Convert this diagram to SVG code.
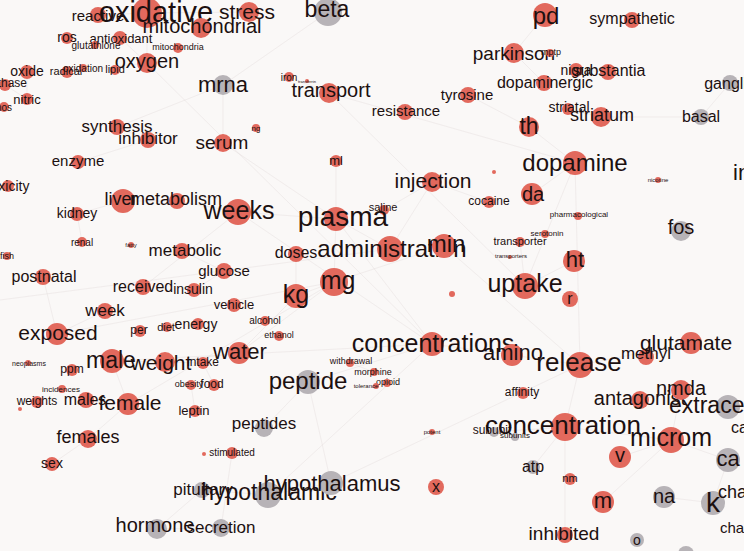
<svg xmlns="http://www.w3.org/2000/svg" width="744" height="551" viewBox="0 0 744 551">
<style>
.r{fill:#e2695d}
.g{fill:#b7b3b7}
text{font-family:"Liberation Sans",Arial,sans-serif;fill:#1c1010;text-anchor:middle;dominant-baseline:central}
text.s{text-anchor:start}
#edges line{stroke:#e0d8d8;stroke-width:0.6;opacity:0.6}
</style>
<rect width="744" height="551" fill="#faf8f7"/>
<g id="edges">
<line x1="147" y1="13" x2="249" y2="12"/><line x1="147" y1="13" x2="147" y2="63"/><line x1="147" y1="13" x2="98" y2="15"/><line x1="147" y1="13" x2="201" y2="28"/>
<line x1="147" y1="63" x2="67" y2="72"/><line x1="147" y1="63" x2="120" y2="38"/><line x1="27" y1="72" x2="27" y2="99"/><line x1="27" y1="99" x2="5" y2="85"/>
<line x1="117" y1="127" x2="148" y2="140"/><line x1="148" y1="140" x2="78" y2="162"/><line x1="117" y1="127" x2="223" y2="85"/><line x1="223" y1="85" x2="223" y2="143"/>
<line x1="223" y1="85" x2="328" y2="12"/><line x1="329" y1="93" x2="289" y2="77"/><line x1="329" y1="93" x2="525" y2="286"/><line x1="336" y1="219" x2="432" y2="344"/>
<line x1="336" y1="219" x2="390" y2="249"/><line x1="336" y1="219" x2="334" y2="282"/><line x1="334" y1="282" x2="296" y2="296"/><line x1="296" y1="296" x2="296" y2="254"/>
<line x1="334" y1="282" x2="444" y2="246"/><line x1="390" y1="249" x2="432" y2="182"/><line x1="432" y1="182" x2="384" y2="210"/><line x1="432" y1="182" x2="489" y2="202"/>
<line x1="575" y1="163" x2="532" y2="194"/><line x1="575" y1="163" x2="525" y2="286"/><line x1="575" y1="163" x2="580" y2="365"/><line x1="575" y1="163" x2="529" y2="127"/>
<line x1="529" y1="127" x2="468" y2="95"/><line x1="514" y1="53" x2="545" y2="15"/><line x1="514" y1="53" x2="544" y2="83"/><line x1="608" y1="72" x2="576" y2="70"/>
<line x1="601" y1="117" x2="568" y2="109"/><line x1="601" y1="117" x2="701" y2="117"/><line x1="701" y1="117" x2="730" y2="83"/><line x1="525" y1="286" x2="520" y2="242"/>
<line x1="525" y1="286" x2="574" y2="261"/><line x1="580" y1="365" x2="691" y2="343"/><line x1="580" y1="365" x2="565" y2="427"/><line x1="565" y1="427" x2="671" y2="440"/>
<line x1="671" y1="440" x2="681" y2="390"/><line x1="681" y1="390" x2="640" y2="400"/><line x1="691" y1="343" x2="646" y2="357"/><line x1="671" y1="440" x2="728" y2="460"/>
<line x1="728" y1="460" x2="713" y2="503"/><line x1="713" y1="503" x2="664" y2="497"/><line x1="565" y1="427" x2="533" y2="467"/><line x1="432" y1="344" x2="512" y2="355"/>
<line x1="512" y1="355" x2="580" y2="365"/><line x1="308" y1="382" x2="264" y2="428"/><line x1="308" y1="382" x2="331" y2="483"/><line x1="331" y1="483" x2="268" y2="495"/>
<line x1="268" y1="495" x2="202" y2="490"/><line x1="202" y1="490" x2="157" y2="529"/><line x1="157" y1="529" x2="221" y2="528"/><line x1="221" y1="528" x2="232" y2="453"/>
<line x1="165" y1="362" x2="112" y2="361"/><line x1="112" y1="361" x2="128" y2="404"/><line x1="128" y1="404" x2="88" y2="439"/><line x1="86" y1="400" x2="128" y2="404"/>
<line x1="165" y1="362" x2="203" y2="363"/><line x1="203" y1="363" x2="214" y2="385"/><line x1="214" y1="385" x2="191" y2="385"/><line x1="195" y1="411" x2="191" y2="385"/>
<line x1="238" y1="212" x2="177" y2="201"/><line x1="123" y1="201" x2="177" y2="201"/><line x1="123" y1="201" x2="77" y2="214"/><line x1="77" y1="214" x2="82" y2="242"/>
<line x1="57" y1="334" x2="105" y2="311"/><line x1="57" y1="334" x2="43" y2="277"/><line x1="143" y1="287" x2="238" y2="212"/><line x1="239" y1="353" x2="165" y2="362"/>
<line x1="239" y1="353" x2="296" y2="296"/><line x1="224" y1="271" x2="194" y2="290"/><line x1="182" y1="251" x2="224" y2="271"/><line x1="238" y1="212" x2="336" y2="219"/>
<line x1="52" y1="464" x2="88" y2="439"/><line x1="432" y1="344" x2="308" y2="382"/><line x1="374" y1="372" x2="350" y2="363"/><line x1="334" y1="282" x2="239" y2="353"/>
<line x1="336" y1="161" x2="336" y2="219"/><line x1="223" y1="143" x2="336" y2="219"/><line x1="565" y1="427" x2="494" y2="432"/><line x1="565" y1="535" x2="565" y2="427"/>
<line x1="620" y1="457" x2="671" y2="440"/><line x1="603" y1="502" x2="671" y2="440"/><line x1="0" y1="300" x2="390" y2="249"/><line x1="112" y1="361" x2="432" y2="344"/>
<line x1="147" y1="63" x2="432" y2="344"/><line x1="238" y1="212" x2="432" y2="344"/><line x1="329" y1="93" x2="575" y2="163"/><line x1="444" y1="246" x2="580" y2="365"/>
<line x1="268" y1="495" x2="432" y2="344"/><line x1="331" y1="483" x2="580" y2="365"/><line x1="57" y1="334" x2="334" y2="282"/><line x1="128" y1="404" x2="334" y2="282"/>
</g>
<g id="n-reactive"><circle class="r" cx="98" cy="15" r="8"/><text x="98" y="15" font-size="15">reactive</text></g>
<g id="n-oxidative"><circle class="r" cx="147" cy="13" r="15"/><text x="156" y="12" font-size="29">oxidative</text></g>
<g id="n-mitochondrial"><circle class="r" cx="201" cy="28" r="10"/><text x="202" y="26" font-size="20">mitochondrial</text></g>
<g id="n-ros"><circle class="r" cx="67" cy="38" r="6"/><text x="67" y="37" font-size="14">ros</text></g>
<g id="n-antioxidant"><circle class="r" cx="120" cy="38" r="7"/><text x="121" y="38" font-size="13">antioxidant</text></g>
<g id="n-glutathione"><circle class="r" cx="95" cy="45" r="4"/><text x="96" y="45" font-size="10">glutathione</text></g>
<g id="n-mitochondria"><circle class="r" cx="178" cy="48" r="5"/><text x="178" y="47" font-size="9">mitochondria</text></g>
<g id="n-oxygen"><circle class="r" cx="147" cy="63" r="10"/><text x="147" y="61" font-size="20">oxygen</text></g>
<g id="n-oxide"><circle class="r" cx="27" cy="72" r="7"/><text x="27" y="71" font-size="14">oxide</text></g>
<g id="n-radical"><circle class="r" cx="67" cy="72" r="6"/><text x="66" y="71" font-size="11">radical</text></g>
<g id="n-oxidation"><circle class="r" cx="83" cy="68" r="4"/><text x="83" y="68" font-size="10">oxidation</text></g>
<g id="n-lipid"><circle class="r" cx="115" cy="70" r="5"/><text x="115" y="69" font-size="11">lipid</text></g>
<g id="n-synthase"><circle class="r" cx="5" cy="85" r="6"/><text x="3" y="83" font-size="12">synthase</text></g>
<g id="n-nitric"><circle class="r" cx="27" cy="99" r="6"/><text x="27" y="99" font-size="13">nitric</text></g>
<g id="n-nos"><circle class="r" cx="4" cy="107" r="5"/><text x="4" y="107" font-size="10">nos</text></g>
<g id="n-synthesis"><circle class="r" cx="117" cy="127" r="8"/><text x="117" y="126" font-size="17">synthesis</text></g>
<g id="n-inhibitor"><circle class="r" cx="148" cy="140" r="8"/><text x="148" y="138" font-size="17">inhibitor</text></g>
<g id="n-enzyme"><circle class="r" cx="78" cy="162" r="7"/><text x="78" y="160" font-size="15">enzyme</text></g>
<g id="n-toxicity"><circle class="r" cx="8" cy="186" r="6"/><text x="8" y="186" font-size="14">toxicity</text></g>
<g id="n-stress"><circle class="r" cx="249" cy="12" r="10"/><text x="247" y="11" font-size="21">stress</text></g>
<g id="n-beta"><circle class="g" cx="328" cy="12" r="14"/><text x="327" y="9" font-size="23">beta</text></g>
<g id="n-mrna"><circle class="g" cx="223" cy="85" r="10"/><text x="223" y="84" font-size="22">mrna</text></g>
<g id="n-iron"><circle class="r" cx="289" cy="77" r="5"/><text x="289" y="77" font-size="10">iron</text></g>
<g id="n-transferrin"><circle class="r" cx="307" cy="81" r="2"/><text x="307" y="81" font-size="4">transferrin</text></g>
<g id="n-transport"><circle class="r" cx="329" cy="93" r="10"/><text x="331" y="90" font-size="20">transport</text></g>
<g id="n-ng"><circle class="r" cx="256" cy="128" r="4"/><text x="256" y="128" font-size="8">ng</text></g>
<g id="n-serum"><circle class="r" cx="223" cy="143" r="9"/><text x="222" y="142" font-size="19">serum</text></g>
<g id="n-ml"><circle class="r" cx="336" cy="161" r="6"/><text x="336" y="160" font-size="13">ml</text></g>
<g id="n-pd"><circle class="r" cx="545" cy="15" r="12"/><text x="546" y="15" font-size="24">pd</text></g>
<g id="n-parkinson"><circle class="r" cx="514" cy="53" r="10"/><text x="514" y="53" font-size="19">parkinson</text></g>
<g id="n-mptp"><circle class="r" cx="550" cy="53" r="4"/><text x="551" y="52" font-size="9">mptp</text></g>
<g id="n-dopaminergic"><circle class="r" cx="544" cy="83" r="8"/><text x="545" y="82" font-size="16">dopaminergic</text></g>
<g id="n-tyrosine"><circle class="r" cx="468" cy="95" r="8"/><text x="467" y="94" font-size="15">tyrosine</text></g>
<g id="n-resistance"><circle class="r" cx="405" cy="112" r="8"/><text x="406" y="110" font-size="15">resistance</text></g>
<g id="n-th"><circle class="r" cx="529" cy="127" r="10"/><text x="529" y="126" font-size="23">th</text></g>
<g id="n-dopamine"><circle class="r" cx="575" cy="163" r="12"/><text x="575" y="162" font-size="24">dopamine</text></g>
<g id="n-injection"><circle class="r" cx="432" cy="182" r="10"/><text x="433" y="180" font-size="21">injection</text></g>
<g id="n-tiny1"><circle class="r" cx="494" cy="172" r="2"/></g>
<g id="n-sympathetic"><circle class="r" cx="632" cy="20" r="8"/><text x="632" y="18" font-size="16">sympathetic</text></g>
<g id="n-nigra"><circle class="r" cx="576" cy="70" r="7"/><text x="576" y="70" font-size="14">nigra</text></g>
<g id="n-substantia"><circle class="r" cx="608" cy="72" r="8"/><text x="609" y="70" font-size="16">substantia</text></g>
<g id="n-ganglia"><circle class="g" cx="730" cy="83" r="8"/><text x="730" y="83" font-size="16">ganglia</text></g>
<g id="n-striatal"><circle class="r" cx="568" cy="109" r="6"/><text x="569" y="107" font-size="14">striatal</text></g>
<g id="n-striatum"><circle class="r" cx="601" cy="117" r="10"/><text x="602" y="115" font-size="18">striatum</text></g>
<g id="n-basal"><circle class="g" cx="701" cy="117" r="8"/><text x="701" y="116" font-size="16">basal</text></g>
<g id="n-nicotine"><circle class="r" cx="658" cy="180" r="3"/><text x="658" y="180" font-size="6">nicotine</text></g>
<g id="n-in"><text class="s" x="733" y="172" font-size="22">in</text></g>
<g id="n-kidney"><circle class="r" cx="77" cy="214" r="7"/><text x="77" y="213" font-size="14">kidney</text></g>
<g id="n-liver"><circle class="r" cx="123" cy="201" r="12"/><text x="121" y="199" font-size="18">liver</text></g>
<g id="n-metabolism"><circle class="r" cx="177" cy="201" r="8"/><text x="176" y="199" font-size="18">metabolism</text></g>
<g id="n-renal"><circle class="r" cx="82" cy="242" r="5"/><text x="82" y="242" font-size="10">renal</text></g>
<g id="n-fatty"><circle class="r" cx="131" cy="245" r="3"/><text x="131" y="245" font-size="6">fatty</text></g>
<g id="n-fish"><circle class="r" cx="7" cy="256" r="4"/><text x="7" y="256" font-size="9">fish</text></g>
<g id="n-metabolic"><circle class="r" cx="182" cy="251" r="8"/><text x="185" y="250" font-size="17">metabolic</text></g>
<g id="n-postnatal"><circle class="r" cx="43" cy="277" r="8"/><text x="44" y="276" font-size="16">postnatal</text></g>
<g id="n-received"><circle class="r" cx="143" cy="287" r="8"/><text x="143" y="286" font-size="16">received</text></g>
<g id="n-insulin"><circle class="r" cx="194" cy="290" r="7"/><text x="193" y="289" font-size="14">insulin</text></g>
<g id="n-week"><circle class="r" cx="105" cy="311" r="8"/><text x="105" y="310" font-size="17">week</text></g>
<g id="n-exposed"><circle class="r" cx="57" cy="334" r="11"/><text x="58" y="332" font-size="21">exposed</text></g>
<g id="n-per"><circle class="r" cx="140" cy="331" r="6"/><text x="139" y="330" font-size="12">per</text></g>
<g id="n-diet"><circle class="r" cx="167" cy="327" r="5"/><text x="166" y="327" font-size="11">diet</text></g>
<g id="n-energy"><circle class="r" cx="198" cy="324" r="6"/><text x="196" y="324" font-size="14">energy</text></g>
<g id="n-neoplasms"><circle class="r" cx="28" cy="363" r="3"/><text x="29" y="363" font-size="7">neoplasms</text></g>
<g id="n-male"><circle class="r" cx="112" cy="361" r="12"/><text x="111" y="360" font-size="23">male</text></g>
<g id="n-weight"><circle class="r" cx="165" cy="362" r="10"/><text x="161" y="362" font-size="21">weight</text></g>
<g id="n-ppm"><circle class="r" cx="72" cy="370" r="6"/><text x="72" y="369" font-size="12">ppm</text></g>
<g id="n-incidences"><circle class="r" cx="62" cy="389" r="4"/><text x="61" y="389" font-size="8">incidences</text></g>
<g id="n-weights"><circle class="r" cx="37" cy="402" r="6"/><text x="37" y="401" font-size="12">weights</text></g>
<g id="n-tiny2"><circle class="r" cx="20" cy="409" r="2"/></g>
<g id="n-males"><circle class="r" cx="86" cy="400" r="8"/><text x="85" y="399" font-size="16">males</text></g>
<g id="n-female"><circle class="r" cx="128" cy="404" r="11"/><text x="130" y="402" font-size="21">female</text></g>
<g id="n-obesity"><circle class="r" cx="191" cy="385" r="5"/><text x="189" y="384" font-size="9">obesity</text></g>
<g id="n-food"><circle class="r" cx="214" cy="385" r="6"/><text x="212" y="384" font-size="12">food</text></g>
<g id="n-intake"><circle class="r" cx="203" cy="363" r="6"/><text x="203" y="362" font-size="12">intake</text></g>
<g id="n-leptin"><circle class="r" cx="195" cy="411" r="6"/><text x="194" y="410" font-size="13">leptin</text></g>
<g id="n-females"><circle class="r" cx="88" cy="439" r="9"/><text x="88" y="437" font-size="18">females</text></g>
<g id="n-sex"><circle class="r" cx="52" cy="464" r="7"/><text x="52" y="463" font-size="14">sex</text></g>
<g id="n-pituitary"><circle class="g" cx="202" cy="490" r="8"/><text x="203" y="489" font-size="17">pituitary</text></g>
<g id="n-hypothalamic"><circle class="g" cx="268" cy="495" r="13"/><text x="269" y="492" font-size="23">hypothalamic</text></g>
<g id="n-hypothalamus"><circle class="g" cx="331" cy="483" r="12"/><text x="332" y="483" font-size="22">hypothalamus</text></g>
<g id="n-secretion"><circle class="g" cx="221" cy="528" r="9"/><text x="221" y="527" font-size="17">secretion</text></g>
<g id="n-hormone"><circle class="g" cx="157" cy="529" r="10"/><text x="155" y="525" font-size="20">hormone</text></g>
<g id="n-water"><circle class="r" cx="239" cy="353" r="11"/><text x="240" y="351" font-size="22">water</text></g>
<g id="n-peptide"><circle class="g" cx="308" cy="382" r="12"/><text x="308" y="380" font-size="24">peptide</text></g>
<g id="n-withdrawal"><circle class="r" cx="350" cy="363" r="4"/><text x="351" y="361" font-size="9">withdrawal</text></g>
<g id="n-morphine"><circle class="r" cx="374" cy="372" r="4"/><text x="373" y="372" font-size="9">morphine</text></g>
<g id="n-opioid"><circle class="r" cx="387" cy="383" r="4"/><text x="388" y="382" font-size="9">opioid</text></g>
<g id="n-tolerance"><circle class="r" cx="376" cy="386" r="3"/><text x="366" y="386" font-size="6">tolerance</text></g>
<g id="n-peptides"><circle class="g" cx="264" cy="428" r="9"/><text x="264" y="423" font-size="17">peptides</text></g>
<g id="n-stimulated"><circle class="r" cx="232" cy="453" r="6"/><text x="232" y="452" font-size="10">stimulated</text></g>
<g id="n-tiny3"><circle class="r" cx="204" cy="454" r="2"/></g>
<g id="n-concentrations"><circle class="r" cx="432" cy="344" r="12"/><text x="433" y="343" font-size="25">concentrations</text></g>
<g id="n-amino"><circle class="r" cx="512" cy="355" r="11"/><text x="513" y="352" font-size="22">amino</text></g>
<g id="n-release"><circle class="r" cx="580" cy="365" r="13"/><text x="579" y="362" font-size="26">release</text></g>
<g id="n-affinity"><circle class="r" cx="523" cy="393" r="6"/><text x="522" y="392" font-size="12">affinity</text></g>
<g id="n-concentration"><circle class="r" cx="565" cy="427" r="14"/><text x="563" y="425" font-size="26">concentration</text></g>
<g id="n-subunit"><circle class="g" cx="494" cy="432" r="5"/><text x="492" y="430" font-size="12">subunit</text></g>
<g id="n-subunits"><circle class="g" cx="515" cy="437" r="4"/><text x="515" y="435" font-size="8">subunits</text></g>
<g id="n-potent"><circle class="r" cx="432" cy="432" r="3"/><text x="432" y="432" font-size="6">potent</text></g>
<g id="n-atp"><circle class="g" cx="533" cy="467" r="7"/><text x="533" y="466" font-size="16">atp</text></g>
<g id="n-x"><circle class="r" cx="436" cy="487" r="8"/><text x="436" y="486" font-size="16">x</text></g>
<g id="n-inhibited"><circle class="r" cx="565" cy="535" r="8"/><text x="564" y="533" font-size="19">inhibited</text></g>
<g id="n-methyl"><circle class="r" cx="646" cy="357" r="8"/><text x="646" y="353" font-size="17">methyl</text></g>
<g id="n-glutamate"><circle class="r" cx="691" cy="343" r="11"/><text x="686" y="342" font-size="21">glutamate</text></g>
<g id="n-antagonist"><circle class="r" cx="640" cy="400" r="9"/><text x="640" y="398" font-size="20">antagonist</text></g>
<g id="n-nmda"><circle class="r" cx="681" cy="390" r="10"/><text x="681" y="388" font-size="20">nmda</text></g>
<g id="n-extracellular"><circle class="g" cx="728" cy="407" r="12"/><text x="731" y="405" font-size="23">extracellular</text></g>
<g id="n-ca1"><text class="s" x="731" y="427" font-size="16">ca</text></g>
<g id="n-microm"><circle class="r" cx="671" cy="440" r="13"/><text x="671" y="437" font-size="25">microm</text></g>
<g id="n-v"><circle class="r" cx="620" cy="457" r="11"/><text x="620" y="455" font-size="20">v</text></g>
<g id="n-ca"><circle class="g" cx="728" cy="460" r="12"/><text x="728" y="458" font-size="22">ca</text></g>
<g id="n-nm"><circle class="r" cx="570" cy="479" r="6"/><text x="570" y="478" font-size="11">nm</text></g>
<g id="n-m"><circle class="r" cx="603" cy="502" r="11"/><text x="603" y="500" font-size="22">m</text></g>
<g id="n-na"><circle class="g" cx="664" cy="497" r="11"/><text x="664" y="496" font-size="20">na</text></g>
<g id="n-k"><circle class="g" cx="713" cy="503" r="12"/><text x="713" y="502" font-size="28">k</text></g>
<g id="n-cha1"><text class="s" x="718" y="492" font-size="18">cha</text></g>
<g id="n-cha2"><text class="s" x="720" y="527" font-size="15">cha</text></g>
<g id="n-o"><circle class="g" cx="637" cy="540" r="7"/><text x="637" y="540" font-size="14">o</text></g>
<g id="n-bottom"><circle class="g" cx="686" cy="554" r="8"/></g>
<g id="n-da"><circle class="r" cx="532" cy="194" r="11"/><text x="533" y="194" font-size="20">da</text></g>
<g id="n-cocaine"><circle class="r" cx="489" cy="202" r="6"/><text x="489" y="201" font-size="12">cocaine</text></g>
<g id="n-saline"><circle class="r" cx="384" cy="210" r="5"/><text x="383" y="207" font-size="11">saline</text></g>
<g id="n-pharmacological"><circle class="r" cx="578" cy="216" r="4"/><text x="579" y="214" font-size="8">pharmacological</text></g>
<g id="n-serotonin"><circle class="r" cx="545" cy="234" r="4"/><text x="547" y="233" font-size="8">serotonin</text></g>
<g id="n-transporter"><circle class="r" cx="520" cy="242" r="5"/><text x="520" y="241" font-size="11">transporter</text></g>
<g id="n-transporters"><circle class="r" cx="510" cy="257" r="2"/><text x="511" y="256" font-size="6">transporters</text></g>
<g id="n-administration"><circle class="r" cx="390" cy="249" r="13"/><text x="392" y="248" font-size="24">administration</text></g>
<g id="n-min"><circle class="r" cx="444" cy="246" r="12"/><text x="446" y="243" font-size="24">min</text></g>
<g id="n-uptake"><circle class="r" cx="525" cy="286" r="13"/><text x="525" y="283" font-size="25">uptake</text></g>
<g id="n-tiny4"><circle class="r" cx="452" cy="294" r="3"/></g>
<g id="n-ht"><circle class="r" cx="574" cy="261" r="11"/><text x="575" y="259" font-size="22">ht</text></g>
<g id="n-r"><circle class="r" cx="570" cy="299" r="8"/><text x="570" y="298" font-size="16">r</text></g>
<g id="n-fos"><circle class="g" cx="681" cy="231" r="10"/><text x="681" y="227" font-size="20">fos</text></g>
<g id="n-weeks"><circle class="r" cx="238" cy="212" r="13"/><text x="239" y="210" font-size="25">weeks</text></g>
<g id="n-plasma"><circle class="r" cx="336" cy="219" r="12"/><text x="343" y="216" font-size="28">plasma</text></g>
<g id="n-doses"><circle class="r" cx="296" cy="254" r="8"/><text x="296" y="252" font-size="16">doses</text></g>
<g id="n-mg"><circle class="r" cx="334" cy="282" r="14"/><text x="338" y="280" font-size="25">mg</text></g>
<g id="n-kg"><circle class="r" cx="296" cy="296" r="12"/><text x="296" y="294" font-size="25">kg</text></g>
<g id="n-glucose"><circle class="r" cx="224" cy="271" r="8"/><text x="224" y="270" font-size="15">glucose</text></g>
<g id="n-vehicle"><circle class="r" cx="234" cy="305" r="7"/><text x="234" y="304" font-size="13">vehicle</text></g>
<g id="n-alcohol"><circle class="r" cx="265" cy="321" r="5"/><text x="265" y="320" font-size="10">alcohol</text></g>
<g id="n-ethanol"><circle class="r" cx="279" cy="336" r="5"/><text x="279" y="335" font-size="9">ethanol</text></g>
</svg>
